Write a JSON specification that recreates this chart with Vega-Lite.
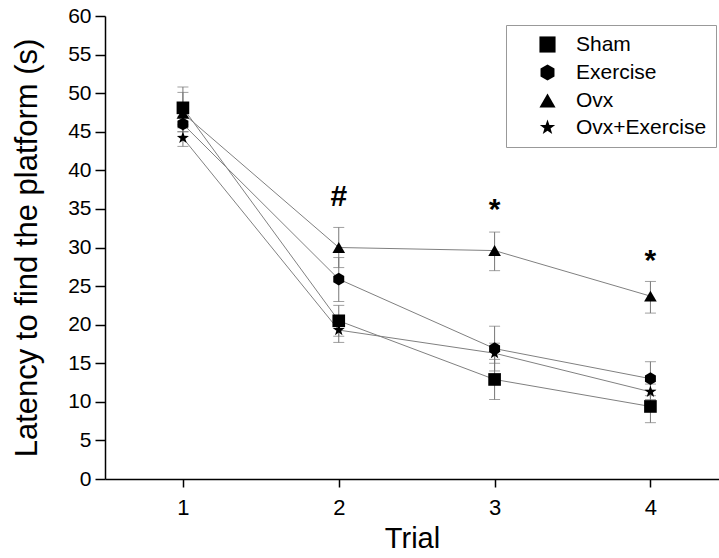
{
  "$schema": "https://vega.github.io/schema/vega-lite/v6.json",
  "width": 614,
  "height": 463,
  "autosize": "none",
  "padding": {"left": 105, "top": 16, "right": 0, "bottom": 79},
  "background": "white",
  "config": {
    "font": "Liberation Sans",
    "view": {"stroke": null},
    "axis": {"grid": false, "domainColor": "#000", "domainWidth": 1.5, "tickColor": "#000", "tickWidth": 1.5, "labelColor": "#000", "titleColor": "#000", "labelFont": "Liberation Sans", "titleFont": "Liberation Sans", "titleFontWeight": "normal"}
  },
  "data": {"values": [
    {"trial": 1, "group": "Sham", "mean": 48.1, "lo": 45.9, "hi": 50.8},
    {"trial": 2, "group": "Sham", "mean": 20.5, "lo": 18.5, "hi": 22.5},
    {"trial": 3, "group": "Sham", "mean": 12.9, "lo": 10.3, "hi": 15.5},
    {"trial": 4, "group": "Sham", "mean": 9.4, "lo": 7.3, "hi": 11.5},
    {"trial": 1, "group": "Exercise", "mean": 46.0, "lo": 45.0, "hi": 47.0},
    {"trial": 2, "group": "Exercise", "mean": 25.9, "lo": 23.0, "hi": 28.7},
    {"trial": 3, "group": "Exercise", "mean": 16.9, "lo": 14.0, "hi": 19.8},
    {"trial": 4, "group": "Exercise", "mean": 13.0, "lo": 10.8, "hi": 15.2},
    {"trial": 1, "group": "Ovx", "mean": 47.4, "lo": 45.0, "hi": 50.1},
    {"trial": 2, "group": "Ovx", "mean": 30.0, "lo": 27.4, "hi": 32.6},
    {"trial": 3, "group": "Ovx", "mean": 29.6, "lo": 27.0, "hi": 32.0},
    {"trial": 4, "group": "Ovx", "mean": 23.7, "lo": 21.5, "hi": 25.6},
    {"trial": 1, "group": "Ovx+Exercise", "mean": 44.2, "lo": 43.1, "hi": 45.5},
    {"trial": 2, "group": "Ovx+Exercise", "mean": 19.3, "lo": 17.7, "hi": 20.9},
    {"trial": 3, "group": "Ovx+Exercise", "mean": 16.3, "lo": 15.0, "hi": 17.6},
    {"trial": 4, "group": "Ovx+Exercise", "mean": 11.3, "lo": 10.3, "hi": 12.3}
  ]},
  "layer": [
    {
      "mark": {"type": "line", "color": "#808080", "strokeWidth": 1},
      "encoding": {
        "x": {"field": "trial", "type": "quantitative", "scale": {"domain": [0.5, 4.44], "nice": false, "zero": false},
          "axis": {"values": [1, 2, 3, 4], "title": "Trial", "format": "d", "labelFontSize": 22, "titleFontSize": 29, "tickSize": 8, "labelPadding": 10, "titlePadding": 6}},
        "y": {"field": "mean", "type": "quantitative", "scale": {"domain": [0, 60], "nice": false},
          "axis": {"values": [0, 5, 10, 15, 20, 25, 30, 35, 40, 45, 50, 55, 60], "title": "Latency to find the platform (s)", "labelFontSize": 21, "titleFontSize": 31, "tickSize": 10, "labelPadding": 4, "titlePadding": 24}},
        "detail": {"field": "group"}
      }
    },
    {
      "mark": {"type": "errorbar", "ticks": {"size": 11, "color": "#777777", "thickness": 1}, "rule": {"color": "#777777", "strokeWidth": 1}},
      "encoding": {
        "x": {"field": "trial", "type": "quantitative", "axis": {"values": [1, 2, 3, 4], "title": "Trial", "format": "d", "labelFontSize": 22, "titleFontSize": 29, "tickSize": 8, "labelPadding": 10, "titlePadding": 6}},
        "y": {"field": "lo", "type": "quantitative", "axis": {"values": [0, 5, 10, 15, 20, 25, 30, 35, 40, 45, 50, 55, 60], "title": "Latency to find the platform (s)", "labelFontSize": 21, "titleFontSize": 31, "tickSize": 10, "labelPadding": 4, "titlePadding": 24}},
        "y2": {"field": "hi"},
        "detail": {"field": "group"}
      }
    },
    {
      "mark": {"type": "point", "filled": true, "color": "#000000", "opacity": 1, "size": 160},
      "encoding": {
        "x": {"field": "trial", "type": "quantitative", "axis": {"values": [1, 2, 3, 4], "title": "Trial", "format": "d", "labelFontSize": 22, "titleFontSize": 29, "tickSize": 8, "labelPadding": 10, "titlePadding": 6}},
        "y": {"field": "mean", "type": "quantitative", "axis": {"values": [0, 5, 10, 15, 20, 25, 30, 35, 40, 45, 50, 55, 60], "title": "Latency to find the platform (s)", "labelFontSize": 21, "titleFontSize": 31, "tickSize": 10, "labelPadding": 4, "titlePadding": 24}},
        "shape": {"field": "group", "type": "nominal",
          "scale": {"domain": ["Sham", "Exercise", "Ovx", "Ovx+Exercise"],
            "range": ["square", "M0,-1L0.866,-0.5L0.866,0.5L0,1L-0.866,0.5L-0.866,-0.5Z", "triangle-up", "M0,-1L0.235,-0.324L0.951,-0.309L0.380,0.124L0.588,0.809L0,0.4L-0.588,0.809L-0.380,0.124L-0.951,-0.309L-0.235,-0.324Z"]},
          "legend": {"title": null, "orient": "none", "legendX": 401, "legendY": 9, "labelFontSize": 21, "labelFont": "Liberation Sans", "labelColor": "#000", "symbolSize": 260, "symbolFillColor": "#000", "symbolStrokeColor": "#000", "symbolOffset": 22, "labelOffset": 18, "rowPadding": 5, "strokeColor": "#999999", "padding": 9, "fillColor": "white"}}
      }
    },
    {
      "data": {"values": [
        {"trial": 2, "y": 36.6, "label": "#"},
        {"trial": 3, "y": 34.8, "label": "*"},
        {"trial": 4, "y": 28.3, "label": "*"}
      ]},
      "mark": {"type": "text", "fontSize": 30, "fontWeight": "bold", "color": "#000", "baseline": "middle", "align": "center", "font": "Liberation Sans"},
      "encoding": {
        "x": {"field": "trial", "type": "quantitative", "axis": {"values": [1, 2, 3, 4], "title": "Trial", "format": "d", "labelFontSize": 22, "titleFontSize": 29, "tickSize": 8, "labelPadding": 10, "titlePadding": 6}},
        "y": {"field": "y", "type": "quantitative", "axis": {"values": [0, 5, 10, 15, 20, 25, 30, 35, 40, 45, 50, 55, 60], "title": "Latency to find the platform (s)", "labelFontSize": 21, "titleFontSize": 31, "tickSize": 10, "labelPadding": 4, "titlePadding": 24}},
        "text": {"field": "label"}
      }
    }
  ]
}
